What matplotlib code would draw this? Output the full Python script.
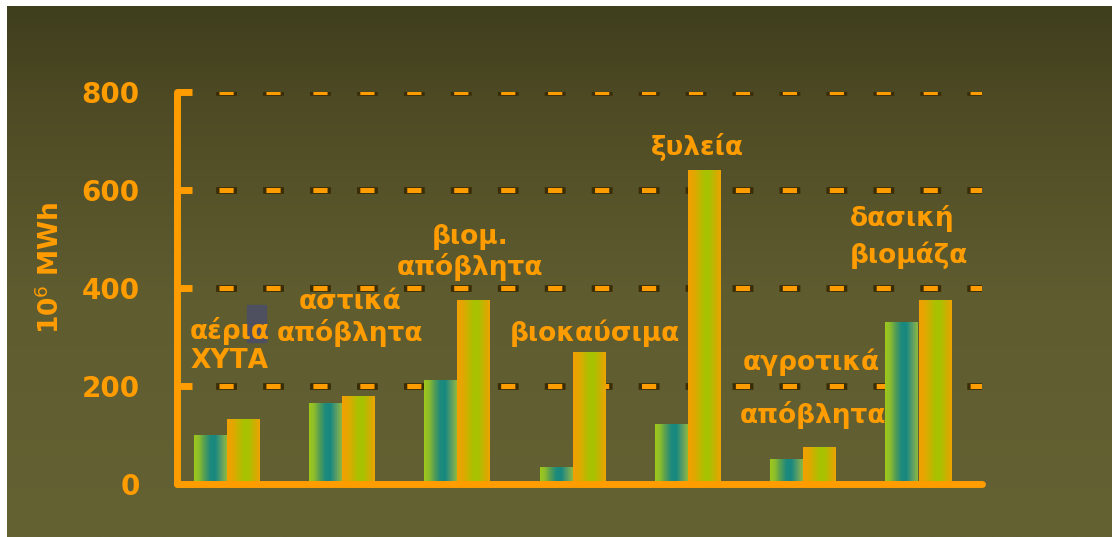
import matplotlib
matplotlib.use("Agg")
import matplotlib.pyplot as plt
import matplotlib.patheffects as pe
from matplotlib.colors import LinearSegmentedColormap
from matplotlib.patches import Rectangle
import numpy as np

# data (10^6 MWh)
categories = ['αέρια ΧΥΤΑ', 'αστικά απόβλητα', 'βιομ. απόβλητα', 'βιοκαύσιμα',
              'ξυλεία', 'αγροτικά απόβλητα', 'δασική βιομάζα']
series_a = [100, 165, 212, 35, 122, 52, 330]
series_b = [133, 180, 375, 270, 640, 75, 375]
y_ticks = [0, 200, 400, 600, 800]

ORANGE = '#ff9c00'
plt.rcParams['lines.scale_dashes'] = False

fig = plt.figure(figsize=(11.12, 5.37), dpi=100)
fig.patch.set_facecolor('white')

# olive background panel with vertical gradient
bg = fig.add_axes([7 / 1112, 0, 1 - 7 / 1112, 531 / 537])
bg_cmap = LinearSegmentedColormap.from_list(
    'bg', [(0, '#646133'), (0.45, '#5f5c30'), (0.8, '#4f4c25'), (1, '#3f3e1d')])
grad = np.linspace(0, 1, 256).reshape(-1, 1)
bg.imshow(grad, aspect='auto', cmap=bg_cmap, origin='lower', extent=[0, 1, 0, 1])
bg.set_xlim(0, 1)
bg.set_ylim(0, 1)
# small grey block behind the first label
bg.add_patch(Rectangle(((247 - 7) / 1105, (537 - 342) / 531), 19 / 1105, 37 / 531,
                       color='#4e5060', zorder=3))
bg.set_axis_off()

ax = fig.add_axes([177 / 1112, 53 / 537, 805 / 1112, 392 / 537])
ax.set_facecolor('none')

# dashed grid lines with dark outline
for yv in y_ticks[1:]:
    ax.axhline(yv, xmin=42 / 805, xmax=1, color=ORANGE, lw=3.6,
               dashes=(10.2, 23.6), dash_capstyle='butt', zorder=1,
               path_effects=[pe.Stroke(linewidth=4.8, foreground='#3a2c05',
                                       capstyle='projecting'), pe.Normal()])

x = np.arange(len(categories))
w = 0.28
bars_a = ax.bar(x - 0.14, series_a, width=w, color='none', zorder=2)
bars_b = ax.bar(x + 0.147, series_b, width=w, color='none', zorder=2)

cmap_a = LinearSegmentedColormap.from_list(
    'a', [(0, '#9ec81c'), (0.15, '#8cbc2c'), (0.3, '#5aa050'), (0.5, '#1c8a7e'),
          (0.65, '#188880'), (0.85, '#5fa064'), (1, '#8cb840')])
cmap_b = LinearSegmentedColormap.from_list(
    'b', [(0, '#f2a000'), (0.2, '#e0a800'), (0.5, '#a8c200'), (0.65, '#a8c200'),
          (0.9, '#d8aa00'), (1, '#eea400')])
hgrad = np.linspace(0, 1, 64).reshape(1, -1)
for bars, cm in ((bars_a, cmap_a), (bars_b, cmap_b)):
    for b in bars:
        bx, by = b.get_x(), b.get_y()
        im = ax.imshow(hgrad, aspect='auto', cmap=cm,
                       extent=[bx, bx + b.get_width(), by, by + b.get_height()], zorder=2)
        im.set_clip_path(b)
ax.set_xlim(-0.425, 6.557)
ax.set_ylim(0, 800)

# spines and ticks
for s in ('top', 'right'):
    ax.spines[s].set_visible(False)
for s in ('left', 'bottom'):
    ax.spines[s].set_color(ORANGE)
    ax.spines[s].set_linewidth(5)
    ax.spines[s].set_capstyle('round')
    ax.spines[s].set_zorder(4)
ax.set_xticks([])
ax.set_yticks(y_ticks)
ax.tick_params(axis='y', direction='in', length=11, width=5, color=ORANGE,
               labelcolor=ORANGE, labelsize=20, pad=27)
for t in ax.get_yticklabels():
    t.set_fontweight('bold')

fig.text(51 / 1112, 1 - 268 / 537, '10$^6$ MWh', rotation=90, color=ORANGE,
         fontsize=19, fontweight='bold', ha='center', va='center')

# category labels
lab = dict(color=ORANGE, fontsize=19, fontweight='bold', zorder=5, linespacing=1.15)
ax.text(-0.312, 282, 'αέρια\nΧΥΤΑ', ha='left', va='center', **lab)
ax.text(1.075, 339, 'αστικά\nαπόβλητα', ha='center', va='center', **lab)
ax.text(2.116, 473, 'βιομ.\nαπόβλητα', ha='center', va='center', **lab)
ax.text(3.2, 308, 'βιοκαύσιμα', ha='center', va='center', **lab)
ax.text(4.085, 688, 'ξυλεία', ha='center', va='center', **lab)
ax.text(4.484, 249, 'αγροτικά', ha='left', va='center', **lab)
ax.text(4.458, 141, 'απόβλητα', ha='left', va='center', **lab)
lab['linespacing'] = 1.4
ax.text(5.412, 504, 'δασική\nβιομάζα', ha='left', va='center', **lab)

fig.savefig('out.png', dpi=100, facecolor=fig.get_facecolor())
